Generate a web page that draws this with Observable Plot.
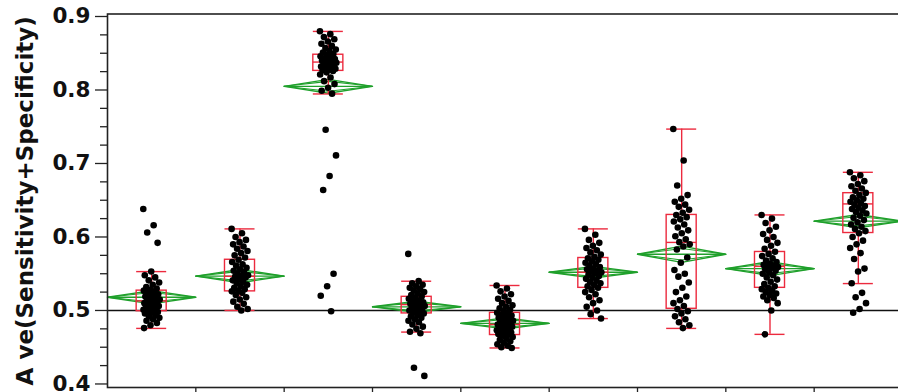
<!DOCTYPE html>
<html><head><meta charset="utf-8">
<script src="https://cdn.jsdelivr.net/npm/d3@7"></script>
<script src="https://cdn.jsdelivr.net/npm/@observablehq/plot@0.6"></script>
<style>
html,body{margin:0;padding:0;background:#fff;overflow:hidden;}
#chart{width:898px;height:392px;overflow:hidden;}
</style></head><body><div id="chart"></div>
<script>
// ---- data ----
const groups = ["1","2","3","4","5","6","7","8","9"];

const g1 = [0.638,0.616,0.606,0.592,0.553,0.548,0.545,0.541,0.538,0.535,0.532,0.530,0.528,0.527,0.526,0.524,0.522,0.521,0.519,0.518,0.516,0.515,0.514,0.513,0.512,0.511,0.510,0.509,0.508,0.506,0.505,0.504,0.503,0.502,0.501,0.500,0.499,0.498,0.497,0.496,0.494,0.492,0.490,0.488,0.486,0.483,0.480,0.476];
const g2 = [0.611,0.605,0.600,0.596,0.593,0.590,0.587,0.584,0.581,0.578,0.575,0.572,0.569,0.566,0.563,0.561,0.558,0.556,0.554,0.552,0.550,0.548,0.547,0.546,0.545,0.543,0.541,0.539,0.537,0.535,0.533,0.531,0.529,0.527,0.526,0.524,0.521,0.518,0.515,0.512,0.509,0.505,0.502,0.500];
const g3 = [0.880,0.876,0.872,0.869,0.866,0.863,0.860,0.857,0.855,0.853,0.851,0.849,0.848,0.846,0.845,0.843,0.842,0.841,0.840,0.839,0.838,0.837,0.836,0.835,0.834,0.833,0.832,0.831,0.830,0.829,0.828,0.827,0.826,0.824,0.821,0.817,0.812,0.808,0.803,0.799,0.795,0.746,0.711,0.683,0.664,0.550,0.533,0.520,0.499];
const g4 = [0.577,0.540,0.537,0.535,0.533,0.531,0.529,0.527,0.525,0.523,0.521,0.519,0.518,0.516,0.514,0.513,0.511,0.510,0.509,0.508,0.507,0.506,0.505,0.504,0.503,0.501,0.500,0.498,0.497,0.496,0.494,0.492,0.490,0.488,0.486,0.484,0.481,0.478,0.475,0.471,0.469,0.422,0.411];
const g5 = [0.534,0.530,0.526,0.522,0.519,0.516,0.513,0.510,0.507,0.505,0.503,0.501,0.499,0.497,0.496,0.494,0.493,0.491,0.490,0.489,0.487,0.486,0.485,0.484,0.483,0.482,0.481,0.480,0.479,0.478,0.477,0.476,0.475,0.474,0.473,0.472,0.471,0.470,0.469,0.468,0.467,0.466,0.464,0.462,0.460,0.458,0.456,0.454,0.452,0.450,0.449];
const g6 = [0.611,0.603,0.596,0.592,0.588,0.585,0.582,0.579,0.576,0.573,0.571,0.569,0.567,0.565,0.563,0.561,0.559,0.557,0.556,0.554,0.553,0.552,0.551,0.549,0.547,0.545,0.543,0.541,0.539,0.537,0.535,0.533,0.531,0.528,0.525,0.522,0.518,0.514,0.510,0.505,0.500,0.495,0.489];
const g7 = [0.747,0.704,0.670,0.657,0.652,0.648,0.644,0.641,0.637,0.633,0.630,0.627,0.624,0.621,0.617,0.613,0.609,0.605,0.601,0.597,0.593,0.590,0.587,0.583,0.572,0.565,0.555,0.550,0.546,0.538,0.531,0.525,0.519,0.514,0.510,0.506,0.502,0.499,0.496,0.492,0.488,0.484,0.480,0.476];
const g8 = [0.630,0.625,0.619,0.614,0.609,0.604,0.600,0.596,0.592,0.588,0.584,0.580,0.577,0.574,0.571,0.568,0.566,0.564,0.562,0.561,0.560,0.559,0.558,0.556,0.554,0.552,0.550,0.548,0.545,0.542,0.539,0.536,0.533,0.531,0.529,0.527,0.525,0.523,0.521,0.519,0.517,0.514,0.510,0.500,0.4675];
const g9 = [0.688,0.684,0.680,0.676,0.672,0.669,0.666,0.663,0.660,0.657,0.654,0.652,0.650,0.648,0.646,0.644,0.642,0.640,0.638,0.636,0.634,0.632,0.629,0.626,0.623,0.620,0.617,0.614,0.611,0.608,0.605,0.600,0.595,0.590,0.585,0.578,0.570,0.557,0.553,0.537,0.524,0.518,0.510,0.502,0.497];

// means diamonds (mean and 95% CI half width)
const means  = [0.5180,0.5468,0.8050,0.5050,0.4825,0.5520,0.5765,0.5570,0.6215];
const ciHalf = [0.0090,0.0090,0.0095,0.0075,0.0075,0.0080,0.0110,0.0095,0.0090];
// quantile boxes
const whiskerLo = [0.4756,0.5000,0.7946,0.4706,0.4490,0.4890,0.4756,0.4675,0.5366];
const q1        = [0.4990,0.5260,0.8260,0.4960,0.4666,0.5308,0.5023,0.5308,0.6054];
const medians   = [0.5130,0.5465,0.8380,0.5080,0.4810,0.5520,0.5926,0.5600,0.6450];
const q3        = [0.5270,0.5690,0.8480,0.5186,0.4968,0.5714,0.6300,0.5796,0.6596];
const whiskerHi = [0.5529,0.6110,0.8797,0.5398,0.5340,0.6110,0.7468,0.6300,0.6880];

const yTicks = [0.4,0.5,0.6,0.7,0.8,0.9];
const yLabel = "A ve(Sensitivity+Specificity)";
const refLine = 0.5;

// ---- build ----
const values = [g1,g2,g3,g4,g5,g6,g7,g8,g9];
const RED = "#ec2a3e", GREEN = "#1fa02b";
const BW = 0.17; // half box width (in group units)
const jit = j => (((j * 0.6180339887) % 1) - 0.5) * 0.19;

const points = values.flatMap((vs, i) => vs.map((v, j) => ({gi: i, v, x: i + 0.5 + jit(j)})));
const stats = groups.map((g, i) => ({
  i, c: i + 0.5, lo: whiskerLo[i], q1: q1[i], med: medians[i], q3: q3[i], hi: whiskerHi[i],
  mean: means[i], ci: ciHalf[i]
}));
const diamondOf = (s, h, k) => [
  {id: k, x: s.i, y: s.mean},
  {id: k, x: s.c, y: s.mean + h},
  {id: k, x: s.i + 1, y: s.mean},
  {id: k, x: s.c, y: s.mean - h},
  {id: k, x: s.i, y: s.mean}
];
const diamond = stats.flatMap(s => diamondOf(s, s.ci, "o" + s.i));
const inner = stats.flatMap(s => diamondOf(s, s.ci / Math.SQRT2, "i" + s.i));
const minorTicks = d3.range(16, 37).map(k => k * 0.025).filter(t => Math.abs(t * 10 - Math.round(t * 10)) > 1e-6);

const chart = Plot.plot({
  width: 898, height: 392,
  marginLeft: 107, marginRight: -4, marginTop: 13.5, marginBottom: 5,
  x: {domain: [0, 9], axis: null},
  y: {domain: [0.3952, 0.9034], axis: null},
  style: {fontFamily: "'DejaVu Sans', sans-serif", color: "#111", background: "#fff"},
  marks: [
    Plot.ruleY([refLine], {stroke: "#111", strokeWidth: 1.6}),
    // means diamonds
    Plot.line(diamond, {x: "x", y: "y", z: "id", stroke: GREEN, strokeWidth: 1.4}),
    Plot.line(inner, {x: "x", y: "y", z: "id", stroke: GREEN, strokeWidth: 1.1}),
    Plot.ruleY(stats, {y: "mean", x1: d => d.i, x2: d => d.i + 1, stroke: GREEN, strokeWidth: 1.3}),
    // quantile boxes
    Plot.ruleX(stats, {x: "c", y1: "lo", y2: "q1", stroke: RED, strokeWidth: 1.4}),
    Plot.ruleX(stats, {x: "c", y1: "q3", y2: "hi", stroke: RED, strokeWidth: 1.4}),
    Plot.ruleY(stats, {y: "lo", x1: d => d.c - BW, x2: d => d.c + BW, stroke: RED, strokeWidth: 1.4}),
    Plot.ruleY(stats, {y: "hi", x1: d => d.c - BW, x2: d => d.c + BW, stroke: RED, strokeWidth: 1.4}),
    Plot.rect(stats, {x1: d => d.c - BW, x2: d => d.c + BW, y1: "q1", y2: "q3", fill: "none", stroke: RED, strokeWidth: 1.4}),
    Plot.ruleY(stats, {y: "med", x1: d => d.c - BW, x2: d => d.c + BW, stroke: RED, strokeWidth: 1.4}),
    // points
    Plot.dot(points, {x: "x", y: "v", r: 3.3, fill: "#000", stroke: "none"}),
    // frame and axes
    Plot.frame({stroke: "#222", strokeWidth: 1.6}),
    Plot.axisY(yTicks, {tickSize: 12, tickPadding: 5, tickFormat: d3.format(".1f"), fontSize: 21.5, fontWeight: "bold", label: null, stroke: "#222", strokeWidth: 1.3}),
    Plot.axisY(minorTicks, {tickSize: 7, tickFormat: () => "", label: null, stroke: "#222", strokeWidth: 1.3}),
    Plot.axisX([1,2,3,4,5,6,7,8], {tickSize: 7, tickFormat: () => "", label: null, stroke: "#222", strokeWidth: 1.3}),
    Plot.text([yLabel], {frameAnchor: "left", dx: -82, rotate: -90, fontSize: 23, fontWeight: "bold", textAnchor: "middle", lineAnchor: "middle", fill: "#111"})
  ]
});
document.getElementById("chart").appendChild(chart);
</script>
</body></html>
